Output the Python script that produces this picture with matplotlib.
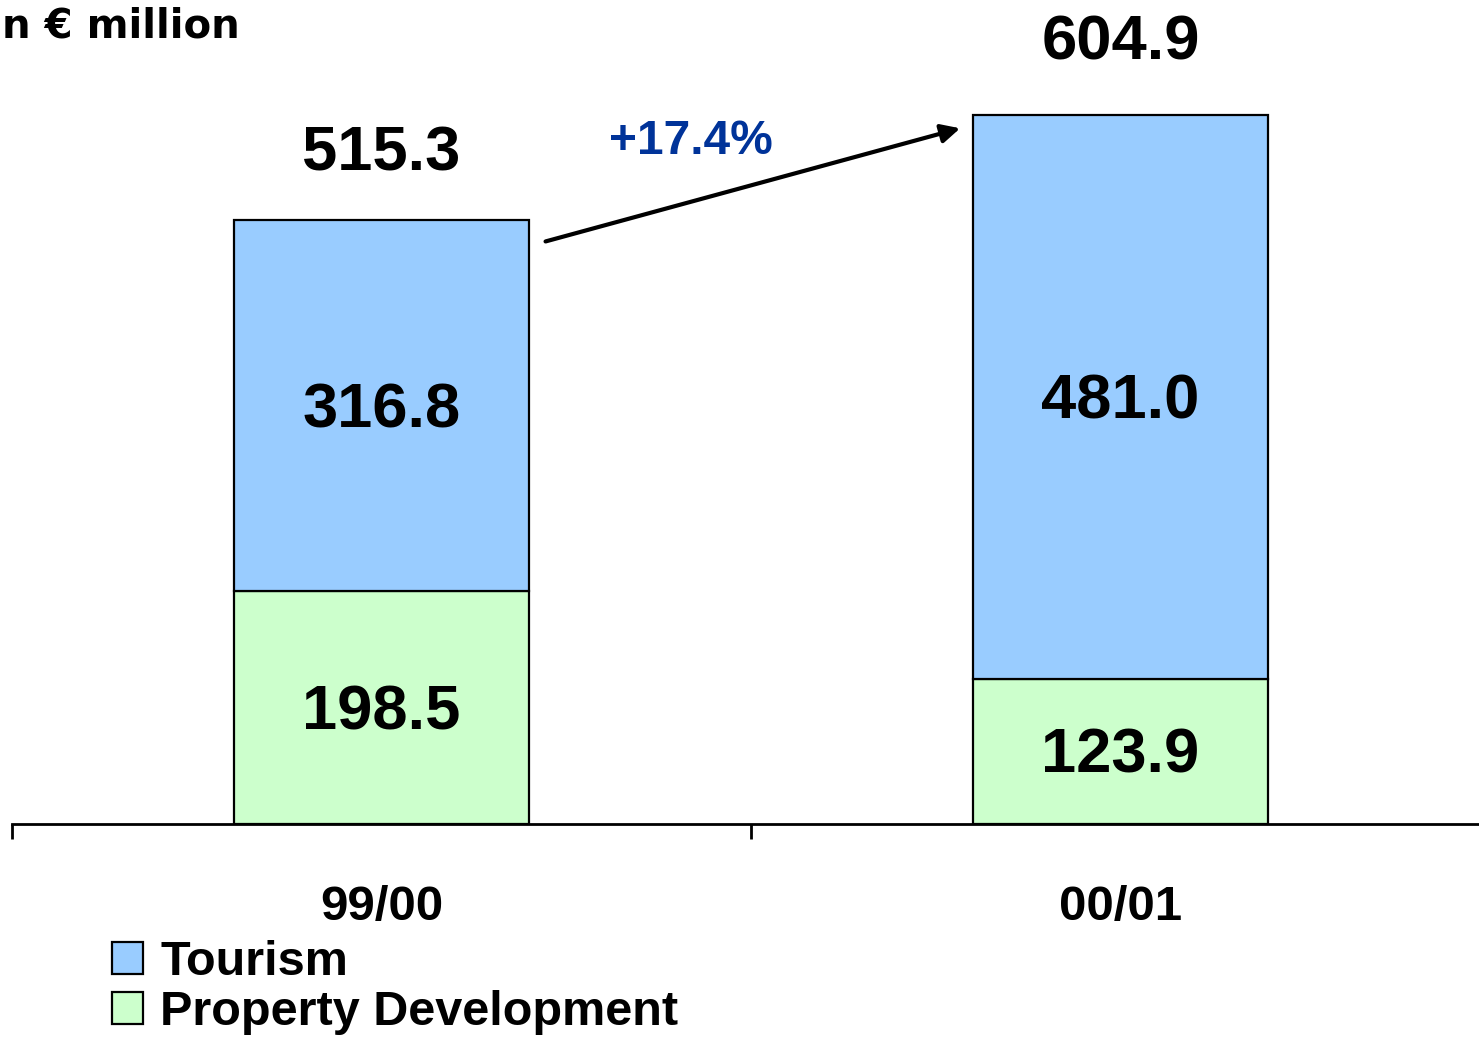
import matplotlib
matplotlib.use("Agg")
import matplotlib.pyplot as plt
from matplotlib.patches import Patch
import numpy as np

# data
periods = ['99/00', '00/01']
property_dev = [198.5, 123.9]
tourism = [316.8, 481.0]
totals = [515.3, 604.9]
unit_label = 'n € million'

c_tour = '#99CCFF'
c_prop = '#CCFFCC'
c_growth = '#003399'

W, H = 1479, 1038
fig = plt.figure(figsize=(W / 100, H / 100), dpi=100)
# axes: left edge at px 12, baseline at px 824, 1 unit = ~1.172 px
ax = fig.add_axes([12 / W, (H - 824) / H, 1478 / W, 820 / H])

x = np.arange(len(periods))
bw = 0.4
ax.bar(x, property_dev, bw, color=c_prop, edgecolor='black', linewidth=1.6, zorder=2)
ax.bar(x, tourism, bw, bottom=property_dev, color=c_tour, edgecolor='black', linewidth=1.6, zorder=2)

ax.set_xlim(-0.5, 1.5)
ax.set_ylim(0, 700)

for s in ['top', 'right', 'left']:
    ax.spines[s].set_visible(False)
ax.spines['bottom'].set_linewidth(2)
ax.set_yticks([])
ax.set_xticks([-0.5, 0.5, 1.5])
ax.set_xticklabels([])
ax.tick_params(axis='x', length=11, width=2, direction='out')

font = 'Liberation Sans'
for i, p in enumerate(periods):
    ax.annotate(p, (x[i], 0), xytext=(0, -69), textcoords='offset points',
                ha='center', va='baseline', fontsize=35.5, fontweight='bold', family=font)

# segment values
for i in range(len(periods)):
    ax.annotate(f'{property_dev[i]:.1f}', (x[i], property_dev[i] / 2), xytext=(0, -3.5),
                textcoords='offset points', ha='center', va='center',
                fontsize=45.5, fontweight='bold', family=font, zorder=3)
    ax.annotate(f'{tourism[i]:.1f}', (x[i], property_dev[i] + tourism[i] / 2), xytext=(0, -3.5),
                textcoords='offset points', ha='center', va='center',
                fontsize=45.5, fontweight='bold', family=font, zorder=3)

# totals above bars
tot_off = [36, 40]
for i in range(len(periods)):
    ax.annotate(f'{totals[i]:.1f}', (x[i], totals[i]), xytext=(0, tot_off[i]),
                textcoords='offset points', ha='center', va='baseline',
                fontsize=45.5, fontweight='bold', family=font)

# growth arrow
ax.annotate('', xy=(x[1] - bw / 2 - 0.017, totals[1] - 11),
            xytext=(x[0] + bw / 2 + 0.022, totals[0] - 18),
            arrowprops=dict(arrowstyle='-|>', color='black', lw=3,
                            mutation_scale=28, shrinkA=0, shrinkB=0))
growth = (totals[1] / totals[0] - 1) * 100
ax.text(0.419, 583, f'+{growth:.1f}%', ha='center', va='center', fontsize=34.5,
        fontweight='bold', color=c_growth, family=font)

fig.text(2 / W, 1 - 26 / H, unit_label, ha='left', va='center', fontsize=29,
         fontweight='bold', family='DejaVu Sans')

handles = [Patch(facecolor=c_tour, edgecolor='black', linewidth=1.6, label='Tourism'),
           Patch(facecolor=c_prop, edgecolor='black', linewidth=1.6, label='Property Development')]
leg = fig.legend(handles=handles, loc='upper left', bbox_to_anchor=(112 / W, 1 - 940 / H),
                 frameon=False, prop={'family': font, 'weight': 'bold', 'size': 35},
                 handlelength=0.63, handleheight=0.63, handletextpad=0.36,
                 labelspacing=0.1, borderpad=0, borderaxespad=0)

fig.savefig('out.png', dpi=100)
